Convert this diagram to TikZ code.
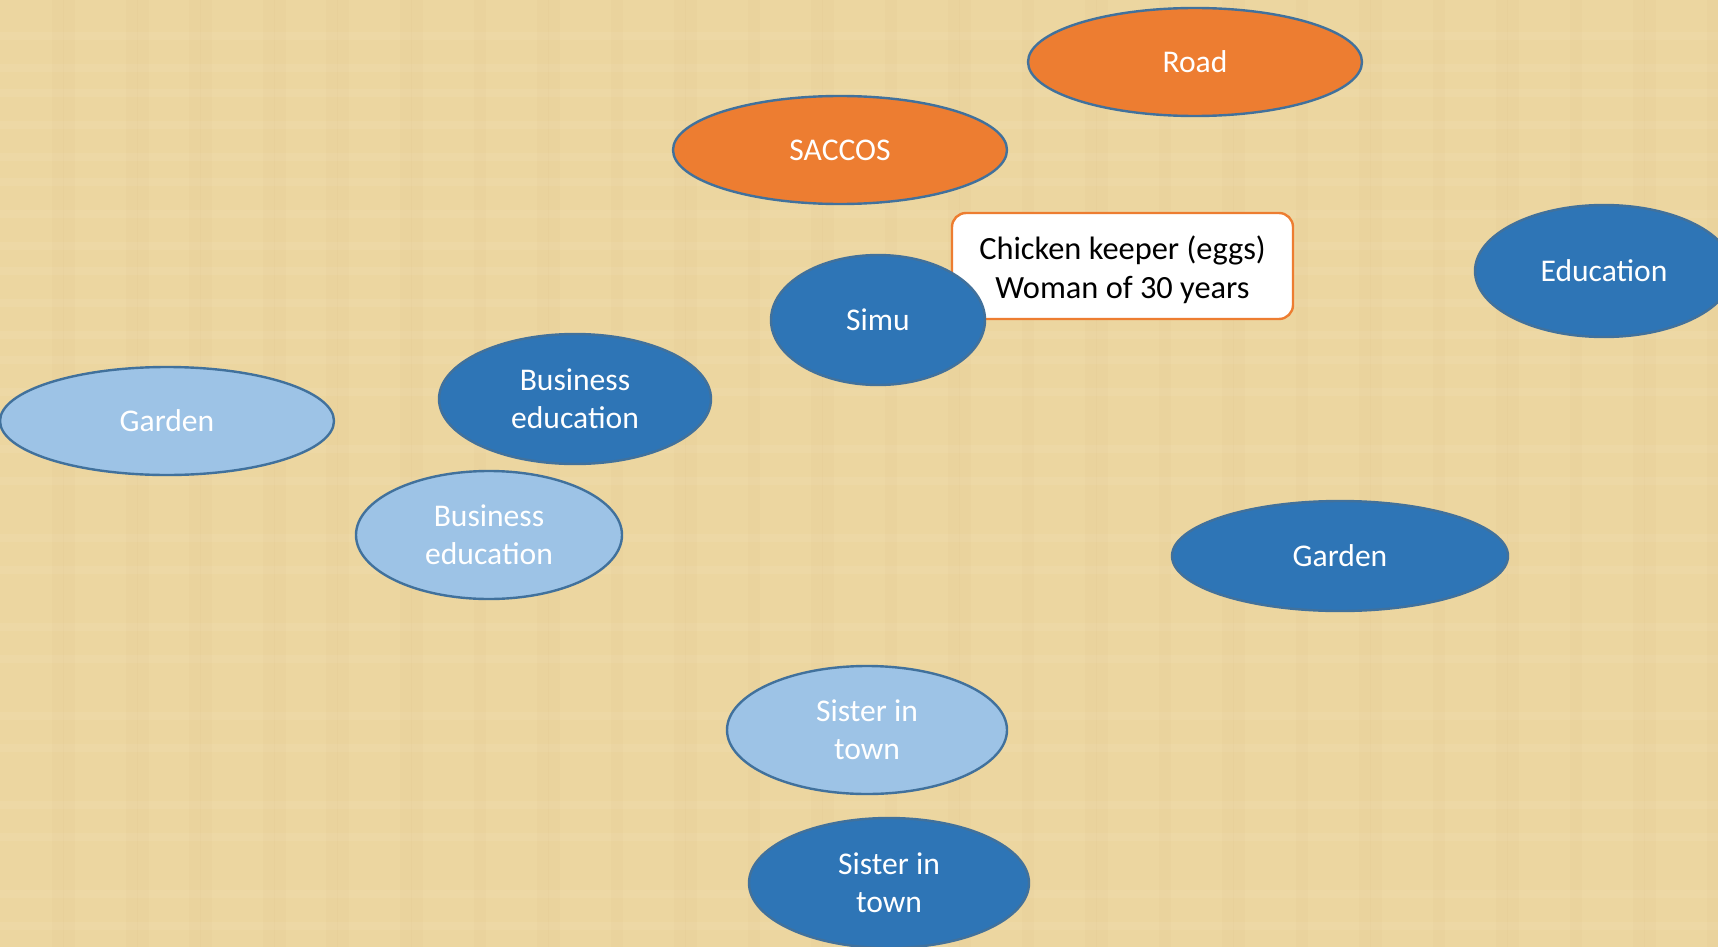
\documentclass[tikz,border=0pt]{standalone}
\usepackage{fontspec}
\setmainfont{Carlito}
\usetikzlibrary{shapes.geometric}
\definecolor{bg}{RGB}{236,214,160}
\definecolor{darkblue}{RGB}{46,117,182}
\definecolor{lightblue}{RGB}{157,195,230}
\definecolor{orng}{RGB}{237,125,49}
\definecolor{edgeblue}{RGB}{65,113,156}
\tikzset{
  ell/.style={ellipse, draw=edgeblue, line width=1.2pt, inner sep=0pt, text=white, align=center, font=\fontsize{15.8}{19}\selectfont},
  darkell/.style={ell, fill=darkblue},
  lightell/.style={ell, fill=lightblue},
  orell/.style={ell, fill=orng},
  sz/.style n args={2}{minimum width=#1*1pt, minimum height=#2*1pt},
  infobox/.style={rectangle, rounded corners=7pt, draw=orng, line width=1.2pt, fill=white, inner sep=0pt}
}
\begin{document}
\begin{tikzpicture}[x=0.5pt,y=-0.5pt]
\useasboundingbox (0,0) rectangle (1718,947);
\clip (0,0) rectangle (1718,947);
\fill[bg] (0,0) rectangle (1718,947);
\foreach \i in {1,...,40}{
  \pgfmathsetmacro{\xx}{mod(\i*137,1718)}
  \fill[brown!40!bg, opacity=0.07] (\xx,0) rectangle (\xx+12,947);
}
\foreach \i in {1,...,25}{
  \pgfmathsetmacro{\yy}{mod(\i*89,947)}
  \fill[white, opacity=0.06] (0,\yy) rectangle (1718,\yy+8);
}
\node[orell, sz={167}{54}] (road) at (1195,62) {Road};
\node[orell, sz={167}{54}] (saccos) at (840,150) {SACCOS};
\node[infobox, minimum width=170.5pt, minimum height=53pt,
  label={[align=center, inner sep=0pt, yshift=-1.8pt, font=\fontsize{16.2}{19.2}\selectfont]center:Chicken keeper (eggs)\\Woman of 30 years}] (info) at (1122.5,266) {};
\node[darkell, sz={107}{65}] (simu) at (878,320) {Simu};
\node[darkell, sz={129}{66}] (edu) at (1604,271) {Education};
\node[lightell, sz={167}{54}] (garden1) at (167,421) {Garden};
\node[darkell, sz={136}{65}] (bized1) at (575,399) {Business\\education};
\node[lightell, sz={133}{64}] (bized2) at (489,535) {Business\\education};
\node[darkell, sz={168}{55}] (garden2) at (1340,556) {Garden};
\node[lightell, sz={140}{64}] (sister1) at (867,730) {Sister in\\town};
\node[darkell, sz={140}{65}] (sister2) at (889,883) {Sister in\\town};
\end{tikzpicture}
\end{document}
